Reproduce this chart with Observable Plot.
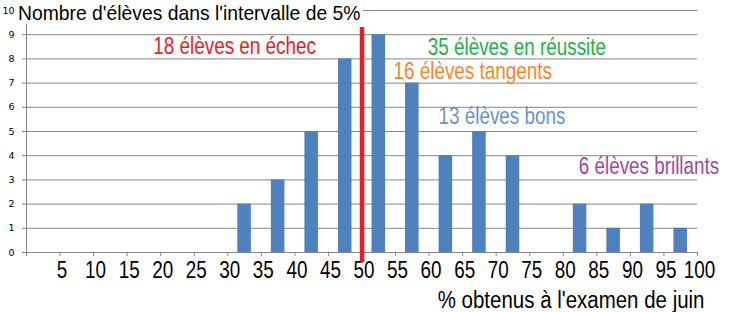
<!DOCTYPE html>
<html>
<head>
<meta charset="utf-8">
<script src="https://cdn.jsdelivr.net/npm/d3@7"></script>
<script src="https://cdn.jsdelivr.net/npm/@observablehq/plot@0.6"></script>
<style>
  html, body { margin: 0; padding: 0; background: #fff; }
  #wrap { position: relative; width: 735px; height: 312px; overflow: hidden; }
  #title { position: absolute; left: 18px; top: 2px; background: #fff; color: #000;
    font-family: "Liberation Sans", Arial, sans-serif;
    font-size: 21px; line-height: 22px; padding: 0 3px 0 0; white-space: nowrap;
    transform: scaleX(0.92); transform-origin: 0 0; }
</style>
</head>
<body>
<div id="wrap"><div id="title"></div></div>
<script>
// Data: number of students per 5% interval (lower bound of interval)
const binStarts = [0, 5, 10, 15, 20, 25, 30, 35, 40, 45, 50, 55, 60, 65, 70, 75, 80, 85, 90, 95];
const counts    = [0, 0, 0, 0, 0, 0, 2, 3, 5, 8, 9, 7, 4, 5, 4, 0, 2, 1, 2, 1];
const xTickLabels = [5, 10, 15, 20, 25, 30, 35, 40, 45, 50, 55, 60, 65, 70, 75, 80, 85, 90, 95, 100];
const yTicks = [0, 1, 2, 3, 4, 5, 6, 7, 8, 9, 10];
const threshold = 50;
const titleText = "Nombre d'élèves dans l'intervalle de 5%";
const xLabel = "% obtenus à l'examen de juin";
const annotationTexts = ["18 élèves en échec", "35 élèves en réussite", "16 élèves tangents", "13 élèves bons", "6 élèves brillants"];

const bins = binStarts.map((s, i) => ({lo: s, hi: s + 5, n: counts[i]}));

// annotation placement (data units) and colours
const annX = [18.9, 59.8, 54.7, 61.4, 82.3];
const annY = [8.5, 8.47, 7.48, 5.62, 3.55];
const annColors = ["#ed1c24", "#22b04a", "#f7862a", "#6d92c9", "#a2489e"];
const annotations = annotationTexts.map((t, i) => ({t, x: annX[i], y: annY[i], c: annColors[i]}));

document.getElementById("title").textContent = titleText;

const FONT = "'Liberation Sans', Arial, sans-serif";
const gridColor = "#878787";
const chart = Plot.plot({
  width: 735,
  height: 312,
  marginLeft: 26,
  marginRight: 38,
  marginTop: 10,
  marginBottom: 60,
  style: {background: "transparent", overflow: "visible"},
  x: {domain: [0, 100]},
  y: {domain: [0, 10]},
  marks: [
    Plot.ruleY(yTicks, {stroke: gridColor, strokeWidth: 1}),
    Plot.ruleX([0], {stroke: gridColor, strokeWidth: 1}),
    Plot.axisY({ticks: yTicks, tickSize: 4, tickPadding: 8, stroke: gridColor, fontSize: 9.5,
      fontFamily: "Tahoma, 'DejaVu Sans', sans-serif", fill: "#000", label: null}),
    Plot.axisX({ticks: [0, ...xTickLabels], tickSize: 4, stroke: gridColor, label: null, tickFormat: () => ""}),
    Plot.text(xTickLabels, {x: d => d, frameAnchor: "bottom", dy: 18, dx: 2, lineAnchor: "middle",
      text: d => String(d), fontSize: 23, fill: "#000", fontFamily: FONT, className: "narrow"}),
    Plot.rectY(bins, {x1: "lo", x2: "hi", y: "n", insetLeft: 10, insetRight: 10, fill: "#4f81bd"}),
    Plot.ruleX([threshold], {y1: -0.42, y2: 9.3, stroke: "#ed1c24", strokeWidth: 4.5}),
    Plot.text(annotations, {x: "x", y: "y", text: "t", fill: "c", textAnchor: "start", fontSize: 23,
      fontFamily: FONT, className: "narrow"}),
    Plot.text([xLabel], {frameAnchor: "bottom-right", textAnchor: "end", lineAnchor: "middle", dy: 48, dx: 7,
      fontSize: 23, fill: "#000", fontFamily: FONT, className: "narrowlabel"})
  ]
});
document.getElementById("wrap").prepend(chart);
chart.style.position = "absolute";
chart.style.left = "0";
chart.style.top = "0";

// emulate a narrow (Arial Narrow-like) face by condensing glyphs
function condense(selector, factor) {
  chart.querySelectorAll(selector).forEach(t => {
    const w = t.getComputedTextLength();
    t.setAttribute("textLength", (w * factor).toFixed(2));
    t.setAttribute("lengthAdjust", "spacingAndGlyphs");
  });
}
condense("g.narrow text", 0.82);
condense("g.narrowlabel text", 0.89);
</script>
</body>
</html>
